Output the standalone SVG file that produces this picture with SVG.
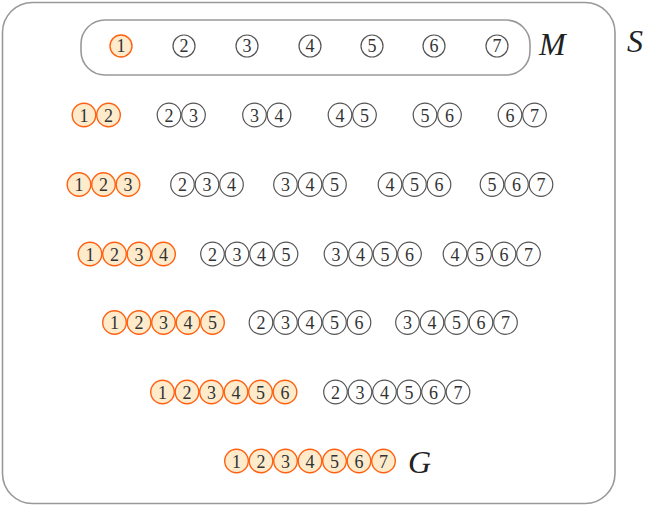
<svg xmlns="http://www.w3.org/2000/svg" width="650" height="508" viewBox="0 0 650 508">
<style>
.o circle{fill:#fdebcc;stroke:#ff6010;stroke-width:1.4}
.g circle{fill:#fff;stroke:#555;stroke-width:1.2}
text.d{font-family:"Liberation Serif","DejaVu Serif",serif;font-size:18px;fill:#333;text-anchor:middle}
text.l{font-family:"Liberation Serif","DejaVu Serif",serif;font-style:italic;font-size:32px;fill:#222}
.frame{fill:none;stroke:#999;stroke-width:1.6}
</style>
<g id="S">
<rect class="frame" x="2.5" y="2.5" width="612.5" height="501" rx="30"/>
<text class="l" x="627" y="52">S</text>
</g>
<g id="M">
<rect class="frame" x="81" y="20" width="449" height="55" rx="24"/>
<text class="l" x="539" y="55">M</text>
</g>
<g id="row1">
<g id="m1" class="o"><circle cx="121" cy="46" r="11"/><text class="d" x="121" y="52">1</text></g>
<g id="m2" class="g"><circle cx="184" cy="46" r="11"/><text class="d" x="184" y="52">2</text></g>
<g id="m3" class="g"><circle cx="247" cy="46" r="11"/><text class="d" x="247" y="52">3</text></g>
<g id="m4" class="g"><circle cx="310" cy="46" r="11"/><text class="d" x="310" y="52">4</text></g>
<g id="m5" class="g"><circle cx="372" cy="46" r="11"/><text class="d" x="372" y="52">5</text></g>
<g id="m6" class="g"><circle cx="434" cy="46" r="11"/><text class="d" x="434" y="52">6</text></g>
<g id="m7" class="g"><circle cx="497" cy="46" r="11"/><text class="d" x="497" y="52">7</text></g>
</g>
<g id="row2">
<g id="s12" class="o"><circle cx="84" cy="115" r="11.8"/><circle cx="108.5" cy="115" r="11.8"/><text class="d" x="84" y="121.5">1</text><text class="d" x="108.5" y="121.5">2</text></g>
<g id="s23" class="g"><circle cx="169" cy="115" r="11.8"/><circle cx="193.5" cy="115" r="11.8"/><text class="d" x="169" y="121.5">2</text><text class="d" x="193.5" y="121.5">3</text></g>
<g id="s34" class="g"><circle cx="254.5" cy="115" r="11.8"/><circle cx="279" cy="115" r="11.8"/><text class="d" x="254.5" y="121.5">3</text><text class="d" x="279" y="121.5">4</text></g>
<g id="s45" class="g"><circle cx="340" cy="115" r="11.8"/><circle cx="364.5" cy="115" r="11.8"/><text class="d" x="340" y="121.5">4</text><text class="d" x="364.5" y="121.5">5</text></g>
<g id="s56" class="g"><circle cx="425" cy="115" r="11.8"/><circle cx="449.5" cy="115" r="11.8"/><text class="d" x="425" y="121.5">5</text><text class="d" x="449.5" y="121.5">6</text></g>
<g id="s67" class="g"><circle cx="510" cy="115" r="11.8"/><circle cx="534.5" cy="115" r="11.8"/><text class="d" x="510" y="121.5">6</text><text class="d" x="534.5" y="121.5">7</text></g>
</g>
<g id="row3">
<g id="s123" class="o"><circle cx="79" cy="184.5" r="11.8"/><circle cx="103.5" cy="184.5" r="11.8"/><circle cx="128" cy="184.5" r="11.8"/><text class="d" x="79" y="191">1</text><text class="d" x="103.5" y="191">2</text><text class="d" x="128" y="191">3</text></g>
<g id="s234" class="g"><circle cx="182.5" cy="184.5" r="11.8"/><circle cx="207" cy="184.5" r="11.8"/><circle cx="231.5" cy="184.5" r="11.8"/><text class="d" x="182.5" y="191">2</text><text class="d" x="207" y="191">3</text><text class="d" x="231.5" y="191">4</text></g>
<g id="s345" class="g"><circle cx="285.5" cy="184.5" r="11.8"/><circle cx="310" cy="184.5" r="11.8"/><circle cx="334.5" cy="184.5" r="11.8"/><text class="d" x="285.5" y="191">3</text><text class="d" x="310" y="191">4</text><text class="d" x="334.5" y="191">5</text></g>
<g id="s456" class="g"><circle cx="390" cy="184.5" r="11.8"/><circle cx="414.5" cy="184.5" r="11.8"/><circle cx="439" cy="184.5" r="11.8"/><text class="d" x="390" y="191">4</text><text class="d" x="414.5" y="191">5</text><text class="d" x="439" y="191">6</text></g>
<g id="s567" class="g"><circle cx="492" cy="184.5" r="11.8"/><circle cx="516.5" cy="184.5" r="11.8"/><circle cx="541" cy="184.5" r="11.8"/><text class="d" x="492" y="191">5</text><text class="d" x="516.5" y="191">6</text><text class="d" x="541" y="191">7</text></g>
</g>
<g id="row4">
<g id="s1234" class="o"><circle cx="90" cy="254" r="11.8"/><circle cx="114.5" cy="254" r="11.8"/><circle cx="139" cy="254" r="11.8"/><circle cx="163.5" cy="254" r="11.8"/><text class="d" x="90" y="260.5">1</text><text class="d" x="114.5" y="260.5">2</text><text class="d" x="139" y="260.5">3</text><text class="d" x="163.5" y="260.5">4</text></g>
<g id="s2345" class="g"><circle cx="212.5" cy="254" r="11.8"/><circle cx="237" cy="254" r="11.8"/><circle cx="261.5" cy="254" r="11.8"/><circle cx="286" cy="254" r="11.8"/><text class="d" x="212.5" y="260.5">2</text><text class="d" x="237" y="260.5">3</text><text class="d" x="261.5" y="260.5">4</text><text class="d" x="286" y="260.5">5</text></g>
<g id="s3456" class="g"><circle cx="336" cy="254" r="11.8"/><circle cx="360.5" cy="254" r="11.8"/><circle cx="385" cy="254" r="11.8"/><circle cx="409.5" cy="254" r="11.8"/><text class="d" x="336" y="260.5">3</text><text class="d" x="360.5" y="260.5">4</text><text class="d" x="385" y="260.5">5</text><text class="d" x="409.5" y="260.5">6</text></g>
<g id="s4567" class="g"><circle cx="455" cy="254" r="11.8"/><circle cx="479.5" cy="254" r="11.8"/><circle cx="504" cy="254" r="11.8"/><circle cx="528.5" cy="254" r="11.8"/><text class="d" x="455" y="260.5">4</text><text class="d" x="479.5" y="260.5">5</text><text class="d" x="504" y="260.5">6</text><text class="d" x="528.5" y="260.5">7</text></g>
</g>
<g id="row5">
<g id="s12345" class="o"><circle cx="114.5" cy="322.5" r="11.8"/><circle cx="139" cy="322.5" r="11.8"/><circle cx="163.5" cy="322.5" r="11.8"/><circle cx="188" cy="322.5" r="11.8"/><circle cx="212.5" cy="322.5" r="11.8"/><text class="d" x="114.5" y="329">1</text><text class="d" x="139" y="329">2</text><text class="d" x="163.5" y="329">3</text><text class="d" x="188" y="329">4</text><text class="d" x="212.5" y="329">5</text></g>
<g id="s23456" class="g"><circle cx="261" cy="322.5" r="11.8"/><circle cx="285.5" cy="322.5" r="11.8"/><circle cx="310" cy="322.5" r="11.8"/><circle cx="334.5" cy="322.5" r="11.8"/><circle cx="359" cy="322.5" r="11.8"/><text class="d" x="261" y="329">2</text><text class="d" x="285.5" y="329">3</text><text class="d" x="310" y="329">4</text><text class="d" x="334.5" y="329">5</text><text class="d" x="359" y="329">6</text></g>
<g id="s34567" class="g"><circle cx="407.5" cy="322.5" r="11.8"/><circle cx="432" cy="322.5" r="11.8"/><circle cx="456.5" cy="322.5" r="11.8"/><circle cx="481" cy="322.5" r="11.8"/><circle cx="505.5" cy="322.5" r="11.8"/><text class="d" x="407.5" y="329">3</text><text class="d" x="432" y="329">4</text><text class="d" x="456.5" y="329">5</text><text class="d" x="481" y="329">6</text><text class="d" x="505.5" y="329">7</text></g>
</g>
<g id="row6">
<g id="s123456" class="o"><circle cx="162.5" cy="392" r="11.8"/><circle cx="187" cy="392" r="11.8"/><circle cx="211.5" cy="392" r="11.8"/><circle cx="236" cy="392" r="11.8"/><circle cx="260.5" cy="392" r="11.8"/><circle cx="285" cy="392" r="11.8"/><text class="d" x="162.5" y="398.5">1</text><text class="d" x="187" y="398.5">2</text><text class="d" x="211.5" y="398.5">3</text><text class="d" x="236" y="398.5">4</text><text class="d" x="260.5" y="398.5">5</text><text class="d" x="285" y="398.5">6</text></g>
<g id="s234567" class="g"><circle cx="335.5" cy="392" r="11.8"/><circle cx="360" cy="392" r="11.8"/><circle cx="384.5" cy="392" r="11.8"/><circle cx="409" cy="392" r="11.8"/><circle cx="433.5" cy="392" r="11.8"/><circle cx="458" cy="392" r="11.8"/><text class="d" x="335.5" y="398.5">2</text><text class="d" x="360" y="398.5">3</text><text class="d" x="384.5" y="398.5">4</text><text class="d" x="409" y="398.5">5</text><text class="d" x="433.5" y="398.5">6</text><text class="d" x="458" y="398.5">7</text></g>
</g>
<g id="G">
<g id="s1234567" class="o"><circle cx="236.5" cy="461" r="11.8"/><circle cx="261" cy="461" r="11.8"/><circle cx="285.5" cy="461" r="11.8"/><circle cx="310" cy="461" r="11.8"/><circle cx="334.5" cy="461" r="11.8"/><circle cx="359" cy="461" r="11.8"/><circle cx="383.5" cy="461" r="11.8"/><text class="d" x="236.5" y="467.5">1</text><text class="d" x="261" y="467.5">2</text><text class="d" x="285.5" y="467.5">3</text><text class="d" x="310" y="467.5">4</text><text class="d" x="334.5" y="467.5">5</text><text class="d" x="359" y="467.5">6</text><text class="d" x="383.5" y="467.5">7</text></g>
<text class="l" x="408" y="473">G</text>
</g>
</svg>
